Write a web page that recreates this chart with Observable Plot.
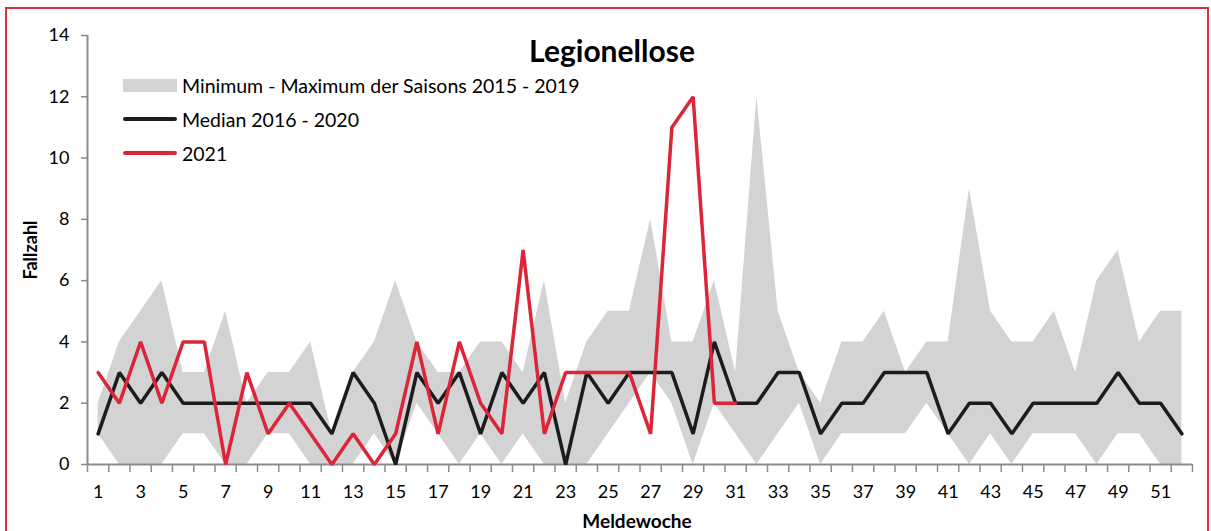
<!DOCTYPE html>
<html>
<head>
<meta charset="utf-8">
<script src="https://cdn.jsdelivr.net/npm/d3@7"></script>
<script src="https://cdn.jsdelivr.net/npm/@observablehq/plot@0.6"></script>
<style>
  html, body { margin: 0; padding: 0; background: #fff; }
  body { font-family: Lato, "Open Sans", sans-serif; color: #000; }
  #wrap { position: relative; width: 1211px; height: 531px; overflow: hidden; }
  #frame { position: absolute; left: 5px; top: 7px; width: 1204px; height: 600px; border: 2px solid #dc2f3c; box-sizing: border-box; pointer-events: none; }
  #chart { position: absolute; left: 0; top: 0; }
  .title { position: absolute; left: 0; width: 1224px; top: 32px; text-align: center; font-weight: 700; font-size: 30px; line-height: 36px; }
  .legend { position: absolute; left: 123px; font-size: 19.5px; }
  .legend .row { position: absolute; left: 0; height: 24px; display: flex; align-items: center; white-space: nowrap; }
  .legend .sw { width: 54px; margin-right: 5px; }
  .ylab { position: absolute; left: 30px; top: 250px; transform: translate(-50%, -50%) rotate(-90deg); font-weight: 700; font-size: 18px; white-space: nowrap; }
  .xlab { position: absolute; left: 637px; top: 520px; transform: translate(-50%, -50%); font-weight: 700; font-size: 19px; white-space: nowrap; }
</style>
</head>
<body>
<div id="wrap">
  <div id="chart"></div>
  <div class="title">Legionellose</div>
  <div class="legend" id="legend"></div>
  <div class="ylab">Fallzahl</div>
  <div class="xlab">Meldewoche</div>
  <div id="frame"></div>
</div>
<script>
// ---- data ----
const weeks = [1,2,3,4,5,6,7,8,9,10,11,12,13,14,15,16,17,18,19,20,21,22,23,24,25,26,
               27,28,29,30,31,32,33,34,35,36,37,38,39,40,41,42,43,44,45,46,47,48,49,50,51,52];
const minValues = [1,0,0,0,1,1,0,0,1,1, 0,0,0,1,0,2,1,0,1,0, 1,0,0,0,1,2,3,2,0,2,
                   1,0,1,2,0,1,1,1,1,2, 1,0,1,0,1,1,1,0,1,1, 0,0];
const maxValues = [2,4,5,6,3,3,5,2,3,3, 4,1,3,4,6,4,3,3,4,4, 3,6,2,4,5,5,8,4,4,6,
                   3,12,5,3,2,4,4,5,3,4, 4,9,5,4,4,5,3,6,7,4, 5,5];
const medianValues = [1,3,2,3,2,2,2,2,2,2, 2,1,3,2,0,3,2,3,1,3, 2,3,0,3,2,3,3,3,1,4,
                      2,2,3,3,1,2,2,3,3,3, 1,2,2,1,2,2,2,2,3,2, 2,1];
const values2021 = [3,2,4,2,4,4,0,3,1,2, 1,0,1,0,1,4,1,4,2,1, 7,1,3,3,3,3,1,11,12,2, 2];
const yTicks = [0,2,4,6,8,10,12,14];
const xTickLabels = [1,3,5,7,9,11,13,15,17,19,21,23,25,27,29,31,33,35,37,39,41,43,45,47,49,51];
const seriesNames = ["Minimum - Maximum der Saisons 2015 - 2019", "Median 2016 - 2020", "2021"];
const colors = { band: "#d3d3d3", median: "#1c1c1c", current: "#dc2638", axis: "#8c8c8c" };

// ---- tables ----
const rows = weeks.map((w, i) => ({ week: w, min: minValues[i], max: maxValues[i], median: medianValues[i] }));
const rows2021 = values2021.map((v, i) => ({ week: weeks[i], value: v }));
const boundaries = d3.range(0.5, weeks.length + 1, 1);

const chart = Plot.plot({
  width: 1211,
  height: 531,
  marginLeft: 87,
  marginRight: 19,
  marginTop: 35,
  marginBottom: 67,
  style: { fontFamily: "Lato, 'Open Sans', sans-serif", color: "#000", background: "transparent", overflow: "visible" },
  x: { domain: [0.5, weeks.length + 0.5], label: null },
  y: { domain: [0, 14], label: null },
  marks: [
    Plot.areaY(rows, { x: "week", y1: "min", y2: "max", fill: colors.band, curve: "linear" }),
    Plot.axisY({ ticks: yTicks, tickSize: 6, tickPadding: 12, fontSize: 18, stroke: colors.axis, strokeWidth: 1.5, label: null }),
    Plot.axisX({ ticks: boundaries, tickSize: 8, tickFormat: () => "", stroke: colors.axis, strokeWidth: 1.5, label: null }),
    Plot.axisX({ ticks: xTickLabels, tickSize: 0, tickPadding: 21, fontSize: 18, label: null }),
    Plot.ruleY([0], { stroke: colors.axis, strokeWidth: 2 }),
    Plot.ruleX([0.5], { stroke: colors.axis, strokeWidth: 2 }),
    Plot.lineY(rows, { x: "week", y: "median", stroke: colors.median, strokeWidth: 3.5, strokeLinejoin: "miter" }),
    Plot.lineY(rows2021, { x: "week", y: "value", stroke: colors.current, strokeWidth: 3.5, strokeLinejoin: "miter" })
  ]
});
document.getElementById("chart").appendChild(chart);

// ---- legend ----
const legend = document.getElementById("legend");
const legendItems = [
  { name: seriesNames[0], swatch: `<div class="sw" style="height:13px;background:${colors.band}"></div>`, top: 73 },
  { name: seriesNames[1], swatch: `<div class="sw" style="height:4px;border-radius:2px;background:${colors.median}"></div>`, top: 107 },
  { name: seriesNames[2], swatch: `<div class="sw" style="height:4px;border-radius:2px;background:${colors.current}"></div>`, top: 141 }
];
legendItems.forEach(it => {
  const r = document.createElement("div");
  r.className = "row";
  r.style.top = it.top + "px";
  r.innerHTML = it.swatch + `<span>${it.name}</span>`;
  legend.appendChild(r);
});
</script>
</body>
</html>
